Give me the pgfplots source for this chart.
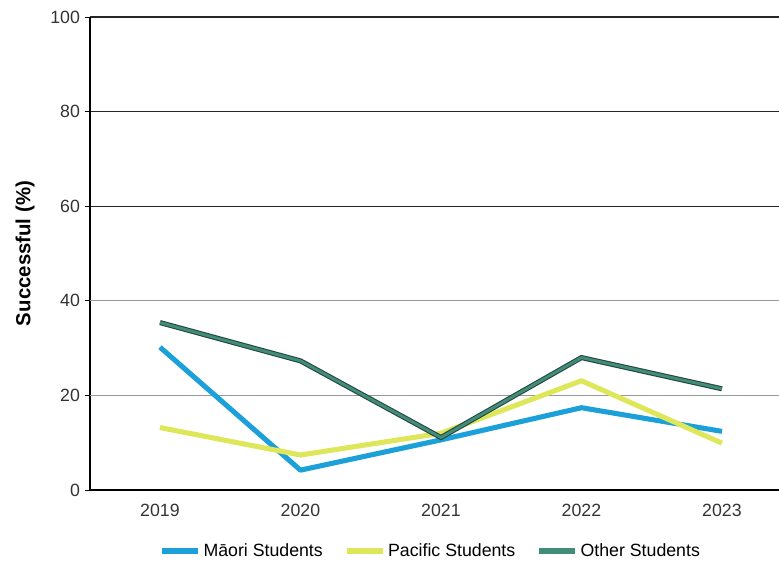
\documentclass[border=0pt]{standalone}
\usepackage{pgfplots}
\pgfplotsset{compat=1.18}
\usepackage{fontspec}
\setmainfont{Liberation Sans}
\definecolor{maori}{RGB}{28,160,218}
\definecolor{pacific}{RGB}{222,230,90}
\definecolor{other}{RGB}{66,140,122}
\definecolor{otherdark}{RGB}{35,70,62}
\begin{document}
\begin{tikzpicture}
\begin{axis}[name=ax, scale only axis, width=516.75pt, height=354.75pt,
 xmin=-0.498, xmax=4.406, ymin=0, ymax=100,
 xtick={0,1,2,3,4}, xticklabels={2019,2020,2021,2022,2023},
 ytick={0,60,80,100}, extra y ticks={20,40},
 extra y tick style={major grid style={black!40, line width=0.6pt}},
 axis x line*=bottom, axis y line*=left,
 axis line style={black, line width=1.5pt, -},
 ymajorgrids, major grid style={black!85, line width=1pt},
 clip=false,
 x tick style={draw=none}, y tick style={black, line width=0.6pt},
 tick align=outside, major tick length=4pt,
 tick label style={font=\fontsize{13.3}{15}\selectfont, text=black!80},
 xticklabel style={yshift=-3pt},
 /pgf/number format/assume math mode=true,
 ylabel={Successful (\%)},
 every axis y label/.style={at={(axis description cs:-0.0943,0.5)}, rotate=90, anchor=center, font=\fontsize{15.3}{17}\selectfont\bfseries},
 legend style={at={(0.495,-0.129)}, anchor=center, draw=none, fill=none, font=\fontsize{13.3}{15}\selectfont, /tikz/every even column/.append style={column sep=14pt}},
 legend columns=3,
 legend image code/.code={\draw[#1, line width=4pt] (0pt,0pt) -- (27pt,0pt);},
]
\addplot[maori, line width=3.8pt, line join=round] coordinates {(0,30.2) (1,4.2) (2,10.6) (3,17.4) (4,12.4)};
\addlegendentry{Māori Students}
\addplot[pacific, line width=3.8pt, line join=round] coordinates {(0,13.2) (1,7.4) (2,12.0) (3,23.1) (4,9.9)};
\addlegendentry{Pacific Students}
\addplot[otherdark, line width=3.8pt, forget plot] coordinates {(0,35.4) (1,27.3) (2,11.1) (3,28.0) (4,21.4)};
\addplot[other, line width=2.2pt] coordinates {(0,35.4) (1,27.3) (2,11.1) (3,28.0) (4,21.4)};
\addlegendentry{Other Students}
\end{axis}
\pgfresetboundingbox
\path ([xshift=-67.5pt,yshift=-54pt]ax.south west) rectangle ([yshift=12.75pt]ax.north east);
\end{tikzpicture}
\end{document}
